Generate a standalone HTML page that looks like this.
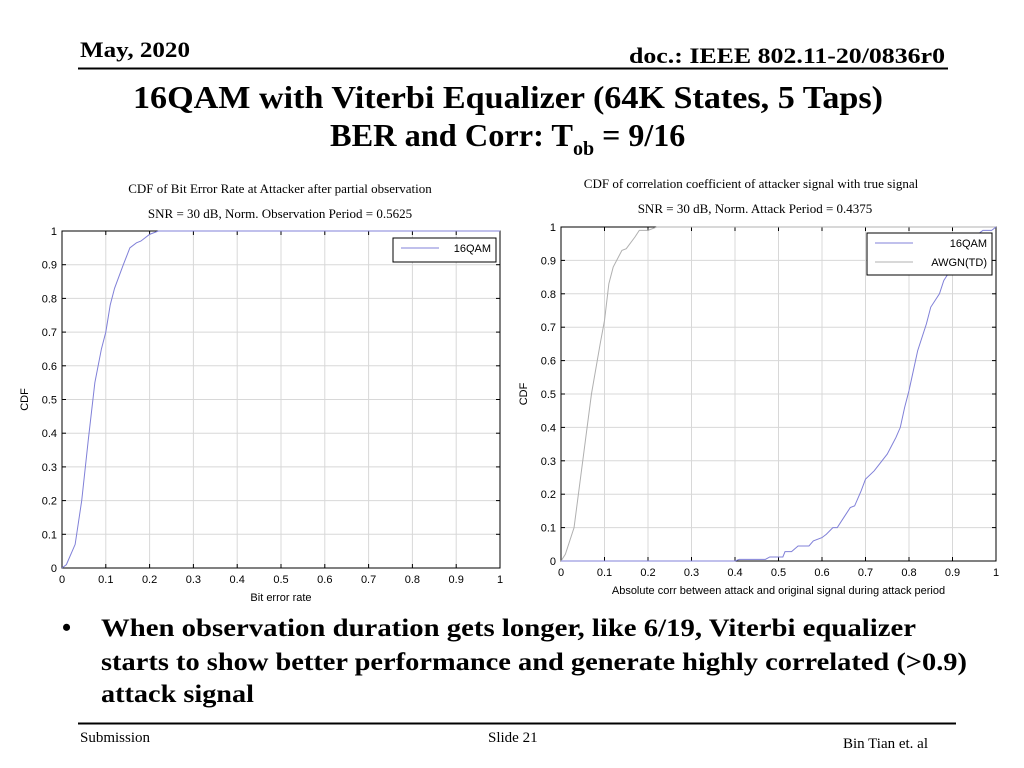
<!DOCTYPE html>
<html><head><meta charset="utf-8"><style>
html,body{margin:0;padding:0;background:#fff;}
svg{display:block;}
.serif{font-family:"Liberation Serif",serif;}
.sans{font-family:"Liberation Sans",sans-serif;}
</style></head><body>
<svg id="s" width="1024" height="768" viewBox="0 0 1024 768" xmlns="http://www.w3.org/2000/svg">
<text class="serif" x="80" y="57" font-size="22" font-weight="bold" textLength="110" lengthAdjust="spacingAndGlyphs">May, 2020</text>
<text class="serif" x="945" y="63" font-size="22" font-weight="bold" text-anchor="end" textLength="316" lengthAdjust="spacingAndGlyphs">doc.: IEEE 802.11-20/0836r0</text>
<line x1="78" y1="68.5" x2="948" y2="68.5" stroke="#000" stroke-width="2"/>
<text class="serif" x="133" y="108" font-size="32" font-weight="bold" textLength="750" lengthAdjust="spacingAndGlyphs">16QAM with Viterbi Equalizer (64K States, 5 Taps)</text>
<text class="serif" x="330" y="146" font-size="32" font-weight="bold"><tspan textLength="243" lengthAdjust="spacingAndGlyphs">BER and Corr: T</tspan><tspan font-size="20" dy="9">ob</tspan><tspan dy="-9"> = 9/16</tspan></text>

<text class="serif" x="280" y="193" font-size="13" text-anchor="middle">CDF of Bit Error Rate at Attacker after partial observation</text>
<text class="serif" x="280" y="218" font-size="13" text-anchor="middle">SNR = 30 dB, Norm. Observation Period = 0.5625</text>
<text class="serif" x="751" y="188" font-size="13" text-anchor="middle">CDF of correlation coefficient of attacker signal with true signal</text>
<text class="serif" x="755" y="213" font-size="13" text-anchor="middle">SNR = 30 dB, Norm. Attack Period = 0.4375</text>

<g id="left"></g>
<g id="right"></g>

<text class="serif" x="62" y="636" font-size="26" font-weight="bold">•</text>
<text class="serif" x="101" y="636" font-size="25" font-weight="bold" textLength="815" lengthAdjust="spacingAndGlyphs">When observation duration gets longer, like 6/19,  Viterbi equalizer</text>
<text class="serif" x="101" y="670" font-size="25" font-weight="bold" textLength="866" lengthAdjust="spacingAndGlyphs">starts to show better performance and generate highly correlated (&gt;0.9)</text>
<text class="serif" x="101" y="702" font-size="25" font-weight="bold" textLength="153" lengthAdjust="spacingAndGlyphs">attack signal</text>
<line x1="78" y1="723.5" x2="956" y2="723.5" stroke="#000" stroke-width="2"/>
<text class="serif" x="80" y="742" font-size="15">Submission</text>
<text class="serif" x="488" y="742" font-size="15">Slide 21</text>
<text class="serif" x="843" y="748" font-size="15">Bin Tian et. al</text>
</svg>
<script>
const ticksX=[0,0.1,0.2,0.3,0.4,0.5,0.6,0.7,0.8,0.9,1];
const ticksY=[0,0.1,0.2,0.3,0.4,0.5,0.6,0.7,0.8,0.9,1];
const tickLabelsX=["0","0.1","0.2","0.3","0.4","0.5","0.6","0.7","0.8","0.9","1"];
const tickLabelsY=["0","0.1","0.2","0.3","0.4","0.5","0.6","0.7","0.8","0.9","1"];
const berX=[0,0.01,0.03,0.045,0.06,0.075,0.09,0.1,0.11,0.12,0.14,0.155,0.17,0.18,0.2,0.22,1];
const berY=[0,0.01,0.07,0.2,0.38,0.55,0.65,0.7,0.78,0.83,0.9,0.95,0.965,0.97,0.99,1,1];
const awgnX=[0,0.01,0.03,0.05,0.07,0.09,0.1,0.11,0.12,0.14,0.15,0.17,0.18,0.2,0.22,1];
const awgnY=[0,0.02,0.1,0.3,0.5,0.65,0.72,0.83,0.88,0.93,0.935,0.97,0.99,0.99,1,1];
const corrX=[0,0.4,0.41,0.47,0.48,0.51,0.515,0.53,0.545,0.57,0.58,0.6,0.61,0.625,0.635,0.65,0.665,0.675,0.69,0.7,0.72,0.75,0.77,0.78,0.79,0.8,0.81,0.82,0.84,0.85,0.87,0.88,0.89,0.9,0.92,0.94,0.96,0.97,0.99,1];
const corrY=[0,0,0.005,0.005,0.012,0.012,0.028,0.028,0.045,0.045,0.06,0.07,0.08,0.1,0.1,0.13,0.16,0.165,0.21,0.245,0.27,0.32,0.37,0.4,0.46,0.51,0.57,0.63,0.71,0.76,0.8,0.84,0.86,0.88,0.93,0.97,0.98,0.99,0.99,1];
const NS="http://www.w3.org/2000/svg";
function mk(tag,attrs,parent){const e=document.createElementNS(NS,tag);for(const k in attrs)e.setAttribute(k,attrs[k]);parent.appendChild(e);return e;}
function chart(gid,L,R,T,B,xlabel,series,legend){
  const g=document.getElementById(gid);
  const sx=v=>L+v*(R-L), sy=v=>B-v*(B-T);
  ticksX.forEach((v,i)=>{
    const ln=mk('line',{x1:sx(v),x2:sx(v),y1:T,y2:B,stroke:'#d8d8d8','stroke-width':1},g);
    
    mk('line',{x1:sx(v),x2:sx(v),y1:B,y2:B-4,stroke:'#000'},g);
    mk('line',{x1:sx(v),x2:sx(v),y1:T,y2:T+4,stroke:'#000'},g);
    const t=mk('text',{x:sx(v),y:B+15,'font-size':11,'text-anchor':'middle','font-family':'Liberation Sans, sans-serif'},g);
    t.textContent=tickLabelsX[i];
    
  });
  ticksY.forEach((v,i)=>{
    const ln=mk('line',{x1:L,x2:R,y1:sy(v),y2:sy(v),stroke:'#d8d8d8','stroke-width':1},g);
    
    mk('line',{x1:L,x2:L+4,y1:sy(v),y2:sy(v),stroke:'#000'},g);
    mk('line',{x1:R,x2:R-4,y1:sy(v),y2:sy(v),stroke:'#000'},g);
    const t=mk('text',{x:L-5,y:sy(v)+4,'font-size':11,'text-anchor':'end','font-family':'Liberation Sans, sans-serif'},g);
    t.textContent=tickLabelsY[i];
    
  });
  const box=mk('rect',{x:L,y:T,width:R-L,height:B-T,fill:'none',stroke:'#000'},g);
  
  series.slice().reverse().forEach(s=>{
    const p=mk('polyline',{points:s.x.map((v,i)=>sx(v)+','+sy(s.y[i])).join(' '),fill:'none',stroke:s.c,'stroke-width':1},g);
    
  });
  const lg=mk('g',{},g);
  
  mk('rect',{x:legend.x,y:legend.y,width:legend.w,height:legend.h,fill:'#fff',stroke:'#000'},lg);
  series.forEach((s,i)=>{
    const yy=legend.y+10+i*19;
    mk('line',{x1:legend.x+8,x2:legend.x+46,y1:yy,y2:yy,stroke:s.c},lg);
    const t=mk('text',{x:legend.x+legend.w-5,y:yy+4,'font-size':11,'text-anchor':'end','font-family':'Liberation Sans, sans-serif'},lg);
    t.textContent=s.label;
    
  });
  const xl=mk('text',{x:(L+R)/2,y:B+33,'font-size':11,'text-anchor':'middle','font-family':'Liberation Sans, sans-serif'},g);
  xl.textContent=xlabel;
  const yl=mk('text',{x:0,y:0,'font-size':11,'text-anchor':'middle','font-family':'Liberation Sans, sans-serif',transform:`translate(${L-34},${(T+B)/2}) rotate(-90)`},g);
  yl.textContent='CDF';
}
chart('left',62,500,231,568,'Bit error rate',[{x:berX,y:berY,c:'#8080d8',label:'16QAM',name:'ber-16qam-line'}],{x:393,y:238,w:103,h:24});
chart('right',561,996,227,561,'Absolute corr between attack and original signal during attack period',
 [{x:corrX,y:corrY,c:'#8080d8',label:'16QAM',name:'corr-16qam-line'},{x:awgnX,y:awgnY,c:'#b0b0b0',label:'AWGN(TD)',name:'corr-awgn-line'}],{x:867,y:233,w:125,h:42});
</script>
</body></html>
